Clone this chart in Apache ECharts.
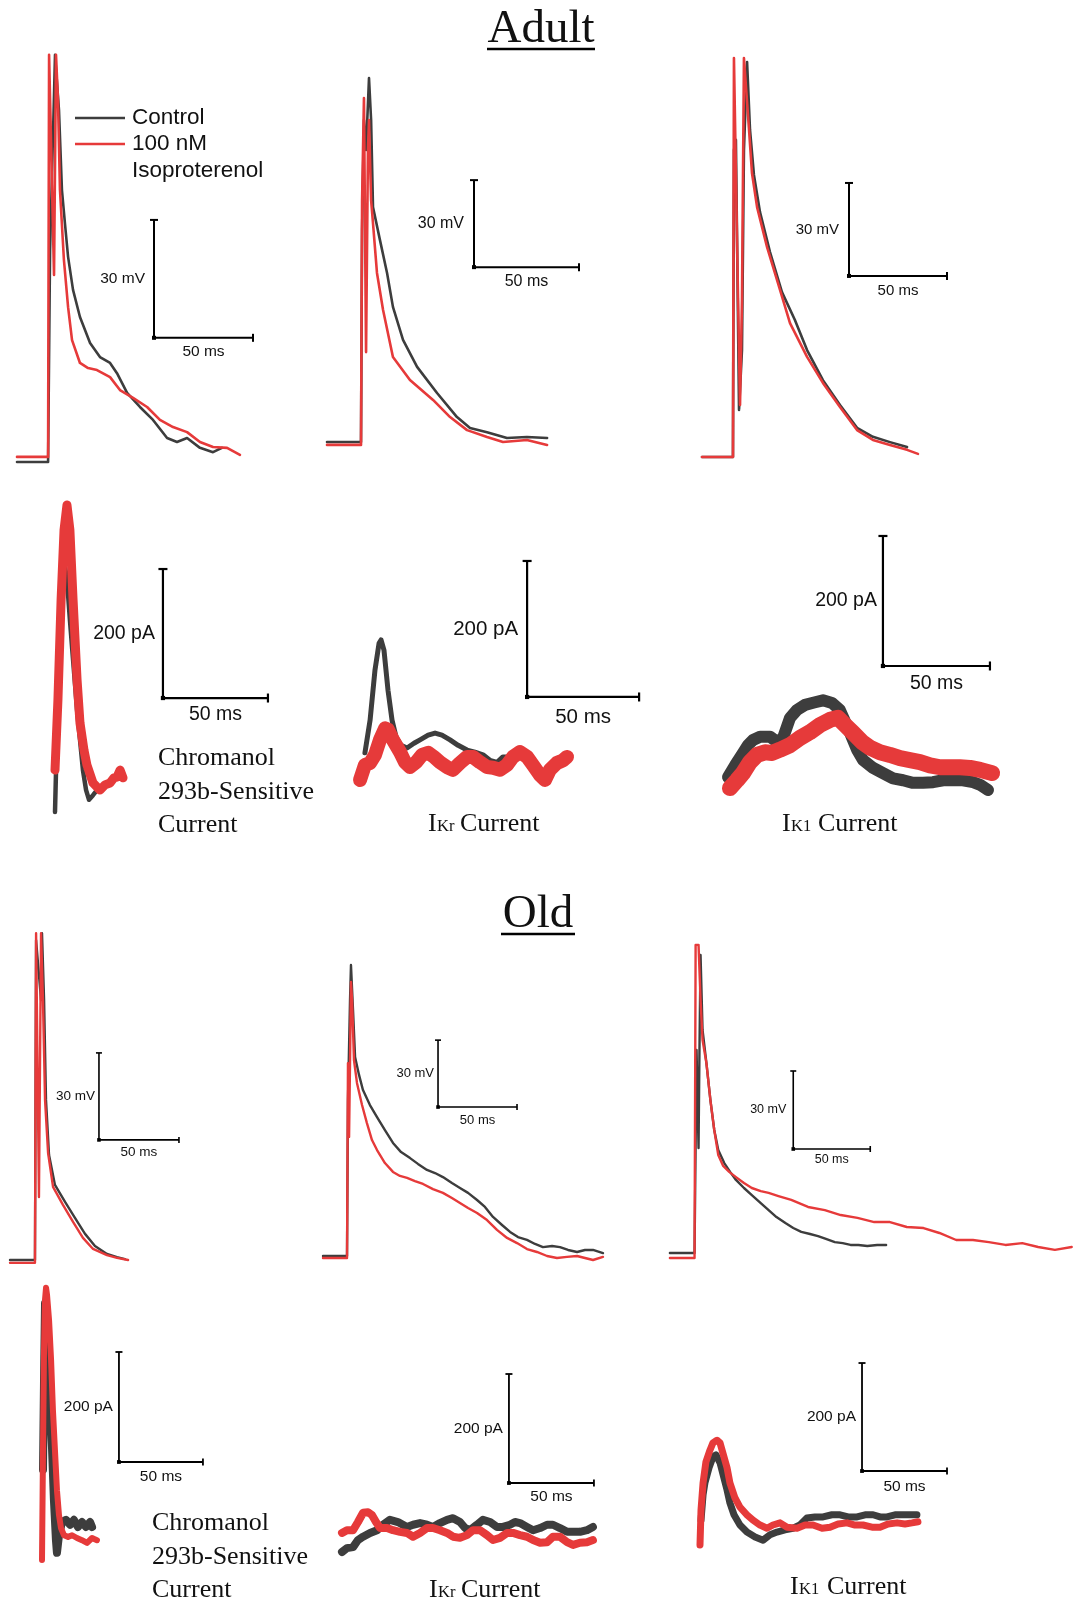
<!DOCTYPE html>
<html>
<head>
<meta charset="utf-8">
<script src="https://cdn.jsdelivr.net/npm/echarts@6/dist/echarts.min.js"></script>
<style>html,body{margin:0;padding:0;background:#fff}#chart{width:1078px;height:1602px}</style>
</head>
<body>
<div id="chart"></div>
<script>
// ---------------- DATA (time in ms, membrane potential in mV rel. to rest, current in pA) ----------------
const seriesNames = ['Control', '100 nM Isoproterenol'];
const scaleTimeMs = 50, scaleVoltageMv = 30, scaleCurrentPa = 200;
const timeBarLabel = '50 ms', voltageBarLabel = '30 mV', currentBarLabel = '200 pA';
const groupTitles = ['Adult', 'Old'];

// Adult action potentials
const adultAPLeftControl = [[0,0],[15.7,0],[16.2,0],[16.7,53.9],[19.2,103.6],[20.2,103.6],[21.2,89.6],[22.7,69.2],[24.2,60.8],[25.8,52.2],[28.3,43.8],[31.8,36.9],[36.9,30.3],[41.9,26.7],[47.0,25.2],[50.5,22.6],[55.6,17.6],[62.1,14.0],[68.7,10.7],[75.8,6.1],[80.8,5.1],[85.9,6.1],[92.4,3.6],[99.0,2.5],[103.5,3.6]];
const adultAPLeftIso = [[0,1.3],[15.7,1.3],[16.2,103.6],[17.2,103.6],[18.7,47.6],[19.7,103.6],[20.7,92.1],[21.7,69.2],[23.7,51.4],[25.8,39.4],[27.8,31.0],[31.8,25.2],[35.9,23.9],[40.4,23.4],[47.0,21.6],[52.0,18.3],[58.6,16.3],[65.7,14.0],[72.2,10.7],[78.8,8.9],[85.9,7.6],[92.4,5.1],[99.0,3.8],[106.1,3.6],[112.6,1.8]];
const adultAPMidControl = [[0,0],[16.2,0],[16.7,73.1],[17.6,111.0],[18.6,100.7],[20.0,125.5],[21.0,111.0],[21.9,81.0],[25.2,69.7],[28.6,58.3],[31.4,46.6],[36.2,35.2],[42.9,25.9],[52.4,16.9],[61.9,8.6],[68.1,4.8],[76.2,3.4],[85.7,1.4],[95.2,1.7],[104.8,1.4]];
const adultAPMidIso = [[0,-1.0],[16.2,-1.0],[16.7,83.4],[17.6,118.6],[18.6,31.0],[19.5,100.7],[20.0,111.0],[21.0,83.4],[21.9,75.5],[23.8,58.3],[26.7,45.5],[31.4,29.3],[39.5,21.4],[50.5,14.5],[58.6,8.6],[66.7,4.1],[76.2,1.7],[83.8,0],[95.2,0.7],[104.8,-1.0]];
const adultAPRightControl = [[0,0],[15.8,0],[16.3,99.0],[17.3,102.3],[18.9,15.2],[20.4,34.5],[21.4,99.0],[23.0,127.4],[24.5,105.5],[26.5,91.0],[29.6,79.0],[34.7,66.1],[40.8,53.2],[47.4,44.2],[53.6,34.5],[61.7,24.8],[70.4,16.8],[79.1,9.4],[87.2,6.5],[95.9,4.8],[104.6,3.2]];
const adultAPRightIso = [[0,0],[15.8,0],[16.3,128.7],[17.3,128.7],[18.4,50.6],[19.4,16.8],[20.4,50.6],[21.4,128.7],[22.4,128.7],[24.0,105.5],[25.5,91.6],[28.1,80.6],[33.2,67.7],[39.8,53.9],[44.9,43.2],[53.6,32.3],[61.7,23.9],[70.4,16.1],[79.1,8.7],[87.2,5.5],[95.9,3.9],[104.6,2.3],[110.2,1.0]];

// Adult currents
const adultChromControl = [[0,0],[0.5,65],[1.9,205],[3.3,329],[4.8,380],[5.7,360],[7.1,298],[8.6,236],[10.5,158],[11.9,112],[13.3,65],[14.8,34],[16.2,19],[18.1,26],[20.0,34]];
const adultChromIso = [[0,65],[1.4,174],[2.9,329],[4.3,437],[5.7,476],[7.1,437],[8.6,329],[10.5,205],[11.9,138],[13.8,96],[15.2,73],[18.1,45],[21.4,34],[23.8,42],[26.2,45],[28.1,53],[29.5,54],[31.0,65],[32.4,53]];
const adultIKrControl = [[2.2,40],[4.5,88],[6.7,162],[8.5,201],[9.4,206],[10.7,191],[12.5,132],[14.3,88],[16.1,63],[18.3,51],[21.0,47],[24.1,54],[26.8,59],[30.4,66],[33.5,69],[36.6,66],[40.2,59],[43.8,51],[47.8,44],[51.3,41],[54.9,37],[58.0,29],[61.2,26],[63.8,34],[65.6,34]];
const adultIKrIso = [[0,0],[2.2,22],[4.5,25],[6.7,37],[8.9,59],[11.2,76],[12.5,74],[14.7,59],[17.9,41],[20.1,26],[22.3,19],[25.0,26],[27.7,37],[30.4,40],[33.0,34],[35.7,26],[38.8,19],[41.5,15],[44.6,25],[47.8,34],[50.4,34],[53.6,26],[56.7,19],[59.4,18],[62.5,15],[65.6,22],[68.3,34],[71.4,41],[74.6,34],[77.2,22],[80.4,7],[82.6,0],[84.8,15],[87.9,25],[90.6,29],[92.4,34]];
const adultIK1Control = [[0,20],[3.3,38],[7.0,57],[9.3,69],[11.7,77],[15.0,82],[19.6,82],[22.9,74],[25.7,80],[29.0,111],[32.2,123],[36.0,131],[40.7,135],[44.4,138],[48.6,134],[52.3,123],[54.7,105],[57.0,88],[60.3,62],[63.1,46],[67.8,34],[72.4,26],[77.1,18],[81.8,15],[86.4,11],[91.1,11],[95.8,12],[100.5,15],[105.1,15],[109.8,15],[114.5,12],[117.8,8],[121.5,0]];
const adultIK1Iso = [[0.9,3],[4.2,15],[7.0,26],[10.3,43],[13.6,54],[17.3,58],[20.6,57],[24.3,62],[29.0,69],[33.6,80],[38.3,89],[43.0,100],[47.7,108],[51.4,111],[54.7,100],[58.4,88],[62.6,74],[66.4,65],[71.0,58],[75.7,54],[80.4,49],[85.0,46],[89.7,43],[94.4,38],[99.1,35],[103.7,35],[108.4,35],[113.1,34],[117.8,31],[123.4,26]];

// Old action potentials
const oldAPLeftControl = [[0,0.7],[15.6,0.7],[16.3,111.0],[17.5,111.0],[19.4,90.3],[20.0,113.4],[21.3,90.3],[22.5,55.9],[24.4,36.9],[28.1,26.6],[34.4,20.7],[40.6,15.2],[46.9,9.7],[53.1,5.5],[60.6,2.8],[66.9,1.7],[71.9,1.0]];
const oldAPLeftIso = [[0,-0.3],[15.6,-0.3],[16.3,113.4],[17.5,113.4],[18.1,22.4],[18.8,22.4],[19.4,113.4],[20.6,90.3],[21.9,55.9],[23.8,37.6],[26.9,25.9],[33.1,19.7],[39.4,13.8],[45.6,8.3],[51.9,4.5],[60.6,2.4],[66.9,1.4],[73.8,0.7]];
const oldAPMidControl = [[0,0],[15.2,0],[15.8,70.0],[17.1,114.8],[17.7,130.5],[19.0,110.3],[20.3,89.2],[22.8,81.2],[25.3,74.4],[29.7,67.7],[34.2,62.3],[39.2,56.5],[44.3,50.7],[49.4,46.6],[55.1,43.9],[60.1,41.3],[65.8,38.6],[70.9,37.2],[75.9,35.4],[81.6,32.7],[86.7,30.5],[91.8,28.3],[97.5,25.1],[102.5,22.0],[107.6,17.5],[113.3,13.9],[118.4,10.8],[123.4,8.5],[129.1,7.2],[134.2,5.4],[139.2,4.0],[145.0,4.5],[150.0,4.0],[155.1,2.7],[160.8,1.8],[165.8,2.7],[170.9,2.7],[177.2,1.3]];
const oldAPMidIso = [[0,-0.9],[15.2,-0.9],[15.8,86.5],[16.5,53.4],[17.1,86.5],[17.7,122.9],[18.4,114.8],[19.6,87.9],[21.5,77.6],[24.7,67.7],[27.8,59.6],[31.0,52.0],[34.2,47.5],[39.2,41.7],[44.3,37.7],[48.7,35.9],[53.2,35.0],[58.2,33.6],[63.3,32.3],[69.6,30.0],[75.9,28.3],[81.6,26.0],[86.7,23.8],[91.8,21.5],[97.5,19.3],[103.8,16.1],[110.1,11.7],[116.5,8.1],[122.8,5.8],[129.1,3.1],[135.4,1.8],[141.8,0],[148.1,-0.9],[154.4,-0.4],[160.8,0],[165.8,-0.9],[170.9,-1.8],[177.2,-0.4]];
const oldAPRightControl = [[0,0],[16.0,0],[17.3,78.1],[18.6,40.4],[19.2,78.1],[19.9,114.6],[21.2,85.8],[23.7,73.1],[26.3,58.8],[28.8,47.3],[31.4,39.6],[35.3,34.6],[39.1,31.2],[42.9,28.1],[48.1,25.0],[53.2,22.3],[59.0,19.2],[64.1,16.5],[69.2,13.8],[75.0,11.5],[80.1,9.6],[85.3,8.1],[91.0,7.3],[96.2,6.5],[101.3,5.4],[107.1,4.2],[112.2,3.8],[117.3,3.1],[122.4,3.1],[128.2,2.7],[134.6,3.1],[140.4,3.1]];
const oldAPRightIso = [[0,-1.9],[16.0,-1.9],[16.7,118.5],[18.6,118.5],[19.9,97.3],[21.2,81.9],[23.7,73.1],[26.3,58.8],[28.8,47.3],[31.4,37.7],[34.6,33.5],[38.5,31.2],[42.9,29.2],[48.1,26.9],[53.2,25.0],[59.0,23.8],[64.1,23.1],[70.5,21.9],[78.8,20.4],[89.7,17.7],[100.6,16.5],[110.9,14.6],[121.8,13.5],[132.7,11.9],[142.9,11.9],[153.8,10.0],[164.7,9.6],[175.0,7.7],[185.9,5.0],[196.8,5.0],[207.1,4.2],[217.9,3.1],[228.8,3.8],[239.1,2.3],[250.0,1.2],[260.9,2.3]];

// Old currents
const oldChromControl = [[0.6,164],[1.2,327],[1.8,467],[2.4,455],[3.6,364],[4.8,285],[6.0,200],[7.1,109],[8.3,36],[8.9,13],[10.1,45],[11.9,69],[14.3,73],[16.7,64],[19.0,73],[21.4,60],[23.8,69],[26.2,60],[28.6,69],[29.8,60]];
const oldChromIso = [[0,0],[0.6,200],[1.2,382],[1.8,473],[2.4,495],[3.0,482],[4.2,436],[5.4,364],[6.5,273],[7.7,200],[8.9,127],[10.1,82],[11.3,58],[13.1,45],[15.5,42],[17.9,45],[20.8,40],[23.8,36],[26.8,31],[29.8,40],[32.7,36]];
const oldIKrControl = [[0,0],[2.9,7],[6.5,9],[9.4,22],[12.4,28],[16.5,35],[20.6,40],[24.1,50],[28.2,59],[32.9,55],[38.2,46],[41.8,50],[45.9,53],[50.0,50],[53.5,46],[57.6,53],[61.8,59],[65.3,62],[69.4,55],[72.4,44],[75.3,40],[79.4,50],[82.9,59],[87.1,55],[91.2,46],[94.7,46],[98.8,50],[101.8,55],[104.7,53],[108.8,46],[112.4,40],[116.5,44],[120.6,50],[124.1,50],[128.2,44],[132.4,37],[135.9,37],[140.0,37],[144.1,40],[147.6,46]];
const oldIKrIso = [[0,35],[2.9,40],[6.5,40],[9.4,55],[12.4,72],[15.3,73],[17.6,68],[20.0,55],[22.4,44],[26.5,44],[30.0,40],[34.1,37],[38.2,35],[41.8,28],[45.9,35],[50.0,44],[53.5,44],[57.6,40],[61.8,35],[65.3,28],[69.4,26],[73.5,31],[77.1,40],[81.2,40],[85.3,31],[88.8,22],[92.9,26],[97.1,35],[100.6,35],[104.7,31],[108.8,28],[112.4,22],[116.5,17],[120.6,18],[124.1,28],[128.2,28],[132.4,18],[135.9,13],[140.0,17],[144.1,18],[147.6,22]];
const oldIK1Control = [[0.6,46],[1.8,93],[2.9,115],[5.3,143],[7.6,163],[9.4,167],[11.8,152],[14.1,124],[15.9,102],[17.6,78],[20.0,56],[23.5,37],[27.6,24],[32.4,15],[37.1,9],[41.2,19],[45.3,24],[50.0,28],[54.7,31],[58.8,37],[62.9,50],[67.6,52],[72.4,52],[77.6,56],[82.4,56],[87.1,52],[92.4,52],[97.1,56],[101.8,56],[105.9,52],[110.0,52],[114.7,56],[119.4,56],[123.5,56],[127.6,56]];
const oldIK1Iso = [[0,0],[0.6,65],[1.8,115],[3.5,154],[5.9,176],[7.6,189],[10.0,194],[11.8,189],[13.5,170],[15.9,143],[17.6,115],[20.6,87],[23.5,70],[27.6,56],[31.2,46],[35.3,37],[39.4,31],[42.9,37],[47.1,41],[51.2,33],[57.1,31],[61.8,37],[66.5,37],[71.8,31],[76.5,33],[81.2,39],[86.5,41],[91.2,37],[95.9,37],[101.2,33],[105.9,33],[110.6,39],[115.9,41],[120.6,39],[124.7,41],[128.2,43]];

// ---------------- LAYOUT / STYLE (pixel placement of each panel) ----------------
const COLOR_CONTROL = '#3d3d3d', COLOR_ISO = '#e63a3a', COLOR_BAR = '#000';
const SANS = '"Liberation Sans", Arial, sans-serif';
const SERIF = '"Liberation Serif", "Times New Roman", serif';

const panels = [
  {control: adultAPLeftControl,  iso: adultAPLeftIso,  ox:17,  oy:462,  kx:1.98, ky:3.93,  xr:[-5,135], yr:[-5,110], bar:[69.2,31.6],  barV:scaleVoltageMv, vLabel:voltageBarLabel, fs:15.5, gapV:9, gapH:14, lw:[2.6,2.6], bw:2, cap:8},
  {control: adultAPMidControl,   iso: adultAPMidIso,   ox:327, oy:442,  kx:2.1,  ky:2.9,   xr:[-5,135], yr:[-5,135], bar:[70.0,60.3],  barV:scaleVoltageMv, vLabel:voltageBarLabel, fs:16,   gapV:10, gapH:14, lw:[2.6,2.6], bw:2, cap:8},
  {control: adultAPRightControl, iso: adultAPRightIso, ox:702, oy:457,  kx:1.96, ky:3.1,   xr:[-5,140], yr:[-5,135], bar:[75.0,58.4],  barV:scaleVoltageMv, vLabel:voltageBarLabel, fs:15,   gapV:10, gapH:15, lw:[2.6,2.6], bw:2, cap:8},
  {control: adultChromControl,   iso: adultChromIso,   ox:55,  oy:812,  kx:2.1,  ky:0.645, xr:[-5,120], yr:[-30,520],bar:[51.4,176.7], barV:scaleCurrentPa, vLabel:currentBarLabel, fs:19.5, gapV:8, gapH:17, lw:[4.5,9], bw:2.2, cap:9},
  {control: adultIKrControl,     iso: adultIKrIso,     ox:360, oy:780,  kx:2.24, ky:0.68,  xr:[-5,140], yr:[-20,360],bar:[74.6,122.1], barV:scaleCurrentPa, vLabel:currentBarLabel, fs:20.5, gapV:9, gapH:20, lw:[5,14], bw:2.2, cap:9},
  {control: adultIK1Control,     iso: adultIK1Iso,     ox:728, oy:790,  kx:2.14, ky:0.65,  xr:[-5,140], yr:[-20,440],bar:[72.4,190.8], barV:scaleCurrentPa, vLabel:currentBarLabel, fs:19.5, gapV:6, gapH:18, lw:[12,16], bw:2.2, cap:9},
  {control: oldAPLeftControl,    iso: oldAPLeftIso,    ox:10,  oy:1262, kx:1.6,  ky:2.9,   xr:[-5,120], yr:[-5,118], bar:[55.6,42.1],  barV:scaleVoltageMv, vLabel:voltageBarLabel, fs:13.5, gapV:4, gapH:12, lw:[2.4,2.4], bw:1.6, cap:6},
  {control: oldAPMidControl,     iso: oldAPMidIso,     ox:323, oy:1256, kx:1.58, ky:2.23,  xr:[-5,190], yr:[-5,138], bar:[72.8,66.8],  barV:scaleVoltageMv, vLabel:voltageBarLabel, fs:13,   gapV:4, gapH:13, lw:[2.4,2.4], bw:1.6, cap:6},
  {control: oldAPRightControl,   iso: oldAPRightIso,   ox:670, oy:1253, kx:1.56, ky:2.6,   xr:[-5,265], yr:[-5,126], bar:[80.1,40.0],  barV:scaleVoltageMv, vLabel:voltageBarLabel, fs:12.5, gapV:7, gapH:11, lw:[2.4,2.4], bw:1.6, cap:6},
  {control: oldChromControl,     iso: oldChromIso,     ox:42,  oy:1560, kx:1.68, ky:0.55,  xr:[-5,110], yr:[-20,520],bar:[45.8,178.2], barV:scaleCurrentPa, vLabel:currentBarLabel, fs:15.5, gapV:6, gapH:15, lw:[8,6], bw:1.8, cap:7},
  {control: oldIKrControl,       iso: oldIKrIso,       ox:342, oy:1552, kx:1.7,  ky:0.545, xr:[-5,170], yr:[-20,360],bar:[98.2,126.6], barV:scaleCurrentPa, vLabel:currentBarLabel, fs:15.5, gapV:6, gapH:14, lw:[8,8], bw:1.8, cap:7},
  {control: oldIK1Control,       iso: oldIK1Iso,       ox:700, oy:1545, kx:1.7,  ky:0.54,  xr:[-5,160], yr:[-20,380],bar:[95.3,137.0], barV:scaleCurrentPa, vLabel:currentBarLabel, fs:15.5, gapV:6, gapH:16, lw:[7,7], bw:1.8, cap:7}
];

const chart = echarts.init(document.getElementById('chart'), null, {renderer: 'canvas'});
const option = {animation: false, backgroundColor: '#fff', grid: [], xAxis: [], yAxis: [], series: []};

panels.forEach((p, i) => {
  option.grid.push({
    left: p.ox + p.xr[0] * p.kx,
    top: p.oy - p.yr[1] * p.ky,
    width: (p.xr[1] - p.xr[0]) * p.kx,
    height: (p.yr[1] - p.yr[0]) * p.ky
  });
  option.xAxis.push({gridIndex: i, type: 'value', min: p.xr[0], max: p.xr[1], show: false});
  option.yAxis.push({gridIndex: i, type: 'value', min: p.yr[0], max: p.yr[1], show: false});
  const trace = (name, data, color, w, z) => ({
    type: 'line', name, xAxisIndex: i, yAxisIndex: i, data,
    showSymbol: false, symbol: 'none', clip: false, silent: true, z,
    lineStyle: {color, width: w, join: 'round', cap: 'round'}
  });
  option.series.push(trace(seriesNames[0], p.control, COLOR_CONTROL, p.lw[0], 2));
  option.series.push(trace(seriesNames[1], p.iso, COLOR_ISO, p.lw[1], 3));
  option.series.push({
    type: 'line', name: 'scale', xAxisIndex: i, yAxisIndex: i, clip: false, silent: true, z: 4,
    showSymbol: true, symbol: 'none',
    itemStyle: {color: COLOR_BAR},
    lineStyle: {color: COLOR_BAR, width: p.bw, join: 'miter'},
    data: [
      {value: [p.bar[0], p.bar[1] + p.barV], symbol: 'rect', symbolSize: [p.cap, p.bw]},
      {value: [p.bar[0], p.bar[1]], symbol: 'rect', symbolSize: [p.bw + 2, p.bw + 2]},
      {value: [p.bar[0] + scaleTimeMs, p.bar[1]], symbol: 'rect', symbolSize: [p.bw, p.cap]}
    ]
  });
});

chart.setOption(option);

// ---------------- Text / annotations ----------------
const txt = (text, x, y, font, align, extra) => Object.assign({
  type: 'text', x, y, silent: true, z: 10,
  style: {text, font, fill: '#111', align: align, textAlign: align, verticalAlign: 'middle', textVerticalAlign: 'middle'}
}, extra || {});
const line = (x1, y1, x2, y2, color, w) => ({type: 'line', silent: true, z: 10, shape: {x1, y1, x2, y2}, style: {stroke: color, lineWidth: w}});

const graphics = [];
panels.forEach((p, i) => {
  const top = chart.convertToPixel({gridIndex: i}, [p.bar[0], p.bar[1] + p.barV]);
  const corner = chart.convertToPixel({gridIndex: i}, [p.bar[0], p.bar[1]]);
  const right = chart.convertToPixel({gridIndex: i}, [p.bar[0] + scaleTimeMs, p.bar[1]]);
  graphics.push(txt(p.vLabel, corner[0] - p.gapV, (top[1] + corner[1]) / 2, p.fs + 'px ' + SANS, 'right'));
  graphics.push(txt(timeBarLabel, (corner[0] + right[0]) / 2, corner[1] + p.gapH, p.fs + 'px ' + SANS, 'center'));
});

// group titles (underlined)
graphics.push(txt(groupTitles[0], 541, 30, '47px ' + SERIF, 'center', {}));
graphics.push(line(487, 49, 595, 49, '#000', 2.5));
graphics.push(txt(groupTitles[1], 538, 915, '47px ' + SERIF, 'center', {}));
graphics.push(line(501, 934, 575, 934, '#000', 2.5));

// legend
graphics.push(line(75, 118, 125, 118, COLOR_CONTROL, 2.6));
graphics.push(line(75, 144, 125, 144, COLOR_ISO, 2.6));
graphics.push(txt('Control', 132, 118, '22.5px ' + SANS, 'left'));
graphics.push(txt('100 nM', 132, 144, '22.5px ' + SANS, 'left'));
graphics.push(txt('Isoproterenol', 132, 171, '22.5px ' + SANS, 'left'));

// captions
const CAP = '26px ' + SERIF, SUB = '16.5px ' + SERIF;
[['Chromanol', 158, 758], ['293b-Sensitive', 158, 792], ['Current', 158, 825],
 ['Chromanol', 152, 1523], ['293b-Sensitive', 152, 1557], ['Current', 152, 1590]].forEach(c => graphics.push(txt(c[0], c[1], c[2], CAP, 'left')));
const subCaption = (x, y, sub, after) => {
  graphics.push(txt('I', x, y, CAP, 'left'));
  graphics.push(txt(sub, x + 9, y + 3, SUB, 'left'));
  graphics.push(txt('Current', after, y, CAP, 'left'));
};
subCaption(428, 824, 'Kr', 460);
subCaption(782, 824, 'K1', 818);
subCaption(429, 1590, 'Kr', 461);
subCaption(790, 1587, 'K1', 827);

chart.setOption({graphic: graphics});
</script>
</body>
</html>
